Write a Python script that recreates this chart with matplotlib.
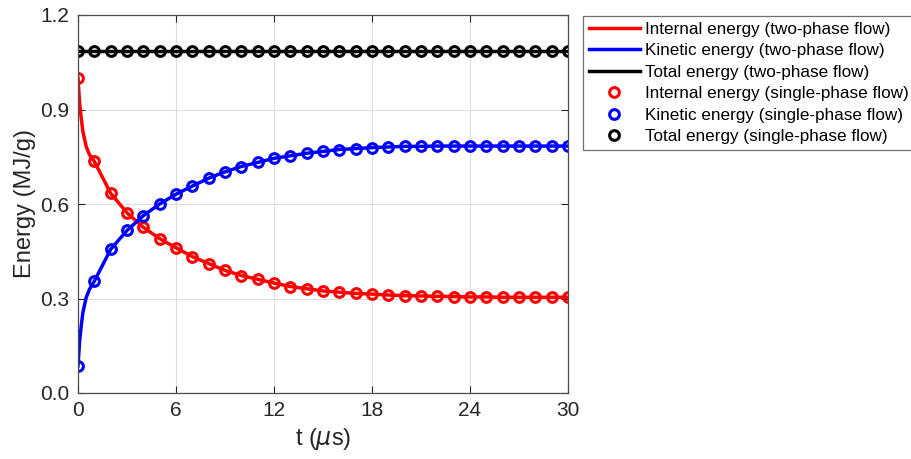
"""Energy exchange: two-phase flow vs single-phase flow."""

import matplotlib
matplotlib.use("Agg")
import matplotlib.pyplot as plt

plt.rcParams["font.family"] = ["Liberation Sans", "DejaVu Sans"]

# single-phase flow samples (markers), t in microseconds
t_pts = list(range(0, 31))
internal_pts = [1.000, 0.735, 0.634, 0.572, 0.526, 0.490, 0.461, 0.433, 0.411, 0.389,
                0.373, 0.361, 0.349, 0.338, 0.331, 0.324, 0.320, 0.316, 0.314, 0.311,
                0.309, 0.308, 0.307, 0.306, 0.305, 0.305, 0.304, 0.304, 0.304, 0.304,
                0.304]
kinetic_pts = [0.086, 0.355, 0.456, 0.516, 0.563, 0.600, 0.631, 0.657, 0.682, 0.702,
               0.719, 0.732, 0.745, 0.753, 0.761, 0.767, 0.773, 0.776, 0.779, 0.781,
               0.783, 0.783, 0.784, 0.784, 0.784, 0.784, 0.784, 0.784, 0.784, 0.784,
               0.784]
total_pts = [1.086] * 31

# two-phase flow curves (lines)
t_line = [0, 0.1, 0.2, 0.3, 0.5, 0.7] + list(range(1, 31))
internal_line = [1.000, 0.920, 0.872, 0.830, 0.783, 0.757] + internal_pts[1:]
kinetic_line = [0.086, 0.166, 0.214, 0.256, 0.303, 0.329] + kinetic_pts[1:]
total_line = [1.086] * len(t_line)

fig = plt.figure(figsize=(9.12, 4.59), dpi=100)
ax = fig.add_axes([78 / 912, 1 - 393 / 459, 490 / 912, 378 / 459])

ax.plot(t_line, internal_line, color="red", lw=2.5, label="Internal energy (two-phase flow)")
ax.plot(t_line, kinetic_line, color="blue", lw=2.5, label="Kinetic energy (two-phase flow)")
ax.plot(t_line, total_line, color="black", lw=2.5, label="Total energy (two-phase flow)")
mk = dict(ls="none", marker="o", ms=7, mew=2.2, mfc="none")
ax.plot(t_pts, internal_pts, mec="red", label="Internal energy (single-phase flow)", **mk)
ax.plot(t_pts, kinetic_pts, mec="blue", label="Kinetic energy (single-phase flow)", **mk)
ax.plot(t_pts, total_pts, mec="black", label="Total energy (single-phase flow)", **mk)

ax.set_xlim(0, 30)
ax.set_ylim(0, 1.2)
ax.set_xticks([0, 6, 12, 18, 24, 30])
ax.set_yticks([0.0, 0.3, 0.6, 0.9, 1.2])
ax.set_yticklabels(["0.0", "0.3", "0.6", "0.9", "1.2"])
ax.set_xlabel(r"t ($\mu$s)", fontsize=17, color="#262626", labelpad=4)
ax.set_ylabel("Energy (MJ/g)", fontsize=17, color="#262626", labelpad=3)
ax.tick_params(direction="in", length=5, width=0.8, labelsize=15, colors="#262626",
               top=True, right=True, pad=6)
ax.grid(True, color="#dedede", lw=0.8)
ax.set_axisbelow(True)
for s in ax.spines.values():
    s.set_color("#4d4d4d")
    s.set_linewidth(0.9)

leg = fig.legend(loc="upper left", bbox_to_anchor=(583 / 912, 1 - 16 / 459),
                 fontsize=12.3, frameon=True, fancybox=False, handlelength=3.0,
                 labelspacing=0.38, borderpad=0.33, handletextpad=0.3, borderaxespad=0)
leg.get_frame().set_edgecolor("#4d4d4d")
leg.get_frame().set_linewidth(0.9)
for txt in leg.get_texts():
    txt.set_color("black")

plt.savefig("out.png", dpi=100)
